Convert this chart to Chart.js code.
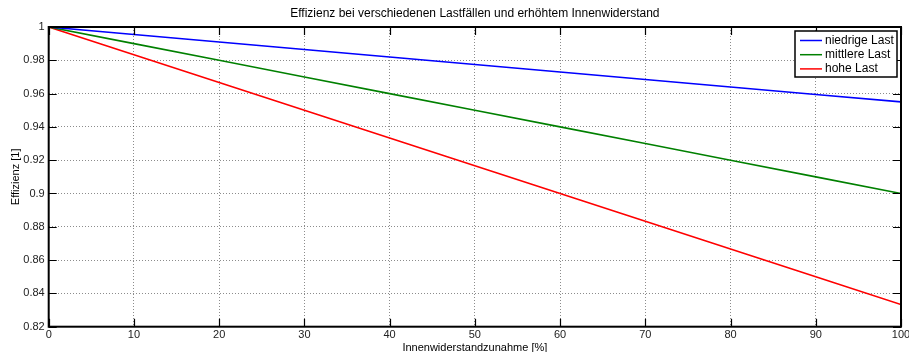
<!DOCTYPE html>
<html>
<head>
<meta charset="utf-8">
<script src="https://cdn.jsdelivr.net/npm/chart.js@4/dist/chart.umd.min.js"></script>
<style>
  html, body { margin: 0; padding: 0; background: #fff; }
  #c { display: block; }
</style>
</head>
<body>
<canvas id="c" width="909" height="352"></canvas>
<script>
// Increase of internal resistance in percent
const resistanceIncrease = [0, 10, 20, 30, 40, 50, 60, 70, 80, 90, 100];
// Efficiency for each load case
const lowLoad    = [1, 0.9955, 0.991, 0.9865, 0.982, 0.9775, 0.973, 0.9685, 0.964, 0.9595, 0.955];
const mediumLoad = [1, 0.99, 0.98, 0.97, 0.96, 0.95, 0.94, 0.93, 0.92, 0.91, 0.90];
const highLoad   = [1, 0.9833, 0.9667, 0.95, 0.9333, 0.9167, 0.90, 0.8833, 0.8667, 0.85, 0.8333];

const seriesNames = ['niedrige Last', 'mittlere Last', 'hohe Last'];
const xTicks = [0, 10, 20, 30, 40, 50, 60, 70, 80, 90, 100];
const yTicks = [0.82, 0.84, 0.86, 0.88, 0.9, 0.92, 0.94, 0.96, 0.98, 1];
const chartTitle = 'Effizienz bei verschiedenen Lastfällen und erhöhtem Innenwiderstand';

const FONT = "'Liberation Sans', Arial, Helvetica, sans-serif";

function toPoints(ys) {
  return ys.map((y, i) => ({ x: resistanceIncrease[i], y: y }));
}

// Title centred over the plot area
const plotTitle = {
  id: 'plotTitle',
  afterDraw(chart) {
    const { ctx, chartArea: a } = chart;
    ctx.save();
    ctx.font = '12px ' + FONT;
    ctx.fillStyle = '#000';
    ctx.textAlign = 'center';
    ctx.textBaseline = 'middle';
    ctx.fillText(chartTitle, (a.left + a.right) / 2, 14);
    ctx.restore();
  }
};

// Box around the plot area with inward tick marks on all four sides
const boxAxes = {
  id: 'boxAxes',
  afterDatasetsDraw(chart) {
    const { ctx, chartArea: a, scales } = chart;
    const xs = scales.x, ys = scales.y;
    const len = 8;
    ctx.save();
    ctx.strokeStyle = '#000';
    ctx.lineWidth = 1.2;
    ctx.beginPath();
    xTicks.forEach(v => {
      const px = Math.round(xs.getPixelForValue(v)) + 0.5;
      ctx.moveTo(px, a.bottom); ctx.lineTo(px, a.bottom - len);
      ctx.moveTo(px, a.top);    ctx.lineTo(px, a.top + len);
    });
    yTicks.forEach(v => {
      const py = Math.round(ys.getPixelForValue(v)) + 0.5;
      ctx.moveTo(a.left, py);  ctx.lineTo(a.left + len, py);
      ctx.moveTo(a.right, py); ctx.lineTo(a.right - len, py);
    });
    ctx.stroke();
    ctx.lineWidth = 2;
    ctx.strokeRect(a.left, a.top, a.right - a.left, a.bottom - a.top);
    ctx.restore();
  }
};

// Legend box in the upper right corner of the plot area
const cornerLegend = {
  id: 'cornerLegend',
  afterDraw(chart) {
    const { ctx, chartArea: a } = chart;
    const w = 102, h = 46;
    const x0 = a.right - 4 - w, y0 = a.top + 4;
    ctx.save();
    ctx.fillStyle = '#fff';
    ctx.fillRect(x0, y0, w, h);
    ctx.strokeStyle = '#000';
    ctx.lineWidth = 1.5;
    ctx.strokeRect(x0, y0, w, h);
    ctx.font = '12px ' + FONT;
    ctx.textBaseline = 'middle';
    ctx.textAlign = 'left';
    chart.data.datasets.forEach((ds, i) => {
      const cy = y0 + 9.5 + i * 14.2;
      ctx.strokeStyle = ds.borderColor;
      ctx.lineWidth = 1.5;
      ctx.beginPath();
      ctx.moveTo(x0 + 5, cy);
      ctx.lineTo(x0 + 27, cy);
      ctx.stroke();
      ctx.fillStyle = '#000';
      ctx.fillText(ds.label, x0 + 30, cy);
    });
    ctx.restore();
  }
};

const makeSet = (label, data, color) => ({
  label: label,
  data: toPoints(data),
  borderColor: color,
  backgroundColor: color,
  borderWidth: 1.6,
  pointRadius: 0,
  tension: 0,
  fill: false
});

new Chart(document.getElementById('c'), {
  type: 'line',
  data: {
    datasets: [
      makeSet(seriesNames[0], lowLoad, '#0000ff'),
      makeSet(seriesNames[1], mediumLoad, '#008000'),
      makeSet(seriesNames[2], highLoad, '#ff0000')
    ]
  },
  plugins: [plotTitle, boxAxes, cornerLegend],
  options: {
    responsive: false,
    animation: false,
    layout: { padding: { top: 27, right: 8, bottom: 0, left: 0 } },
    plugins: {
      legend: { display: false },
      tooltip: { enabled: false },
      title: { display: false }
    },
    scales: {
      x: {
        type: 'linear',
        min: 0, max: 100,
        afterBuildTicks(s) { s.ticks = xTicks.map(v => ({ value: v })); },
        afterFit(s) { s.height = 25.3; s.paddingLeft = 0; s.paddingRight = 0; },
        ticks: {
          color: '#222',
          padding: 2,
          maxRotation: 0,
          font: { family: FONT, size: 11 },
          callback: v => String(v)
        },
        grid: {
          color: 'rgba(0,0,0,0.45)',
          lineWidth: 1,
          drawTicks: false
        },
        border: { display: false, dash: [1, 2] },
        title: {
          display: true,
          text: 'Innenwiderstandzunahme [%]',
          color: '#000',
          font: { family: FONT, size: 11 },
          padding: { top: 0, bottom: -3 }
        }
      },
      y: {
        type: 'linear',
        min: 0.82, max: 1,
        afterBuildTicks(s) { s.ticks = yTicks.map(v => ({ value: v })); },
        afterFit(s) { s.width = 48.7; s.paddingTop = 0; s.paddingBottom = 0; },
        ticks: {
          color: '#222',
          padding: 4,
          font: { family: FONT, size: 11 },
          callback: v => String(Number(v.toFixed(2)))
        },
        grid: {
          color: 'rgba(0,0,0,0.45)',
          lineWidth: 1,
          drawTicks: false
        },
        border: { display: false, dash: [1, 2] },
        title: {
          display: true,
          text: 'Effizienz [1]',
          color: '#000',
          font: { family: FONT, size: 11 },
          padding: { top: 9, bottom: 0 }
        }
      }
    }
  }
});
</script>
</body>
</html>
